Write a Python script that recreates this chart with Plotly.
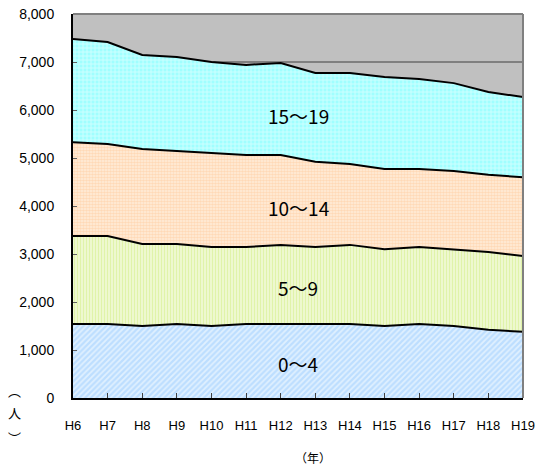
import plotly.graph_objects as go

years = ["H6", "H7", "H8", "H9", "H10", "H11", "H12", "H13", "H14", "H15", "H16", "H17", "H18", "H19"]

age_0_4 = [1540, 1540, 1500, 1540, 1500, 1540, 1540, 1540, 1540, 1500, 1540, 1500, 1420, 1380]
age_5_9 = [1835, 1835, 1710, 1670, 1645, 1605, 1650, 1605, 1650, 1600, 1605, 1600, 1620, 1580]
age_10_14 = [1955, 1915, 1980, 1935, 1955, 1915, 1870, 1775, 1685, 1670, 1625, 1630, 1610, 1640]
age_15_19 = [2150, 2125, 1955, 1960, 1900, 1880, 1920, 1850, 1895, 1920, 1875, 1830, 1725, 1670]

y_ticks = [0, 1000, 2000, 3000, 4000, 5000, 6000, 7000, 8000]

GRAY_BG = "#c0c0c0"
GRID = "#808080"
TICK_FONT = {"family": "Arial, Liberation Sans, sans-serif", "size": 13, "color": "#000000"}
JP_FONT = "Noto Sans CJK JP, sans-serif"

series = [
    ("0～4", age_0_4, {"shape": "/", "fgcolor": "#99ccff", "bgcolor": "#e0f0ff", "size": 4, "solidity": 0.55}),
    ("5～9", age_5_9, {"shape": "|", "fgcolor": "#cbeb78", "bgcolor": "#f4fadc", "size": 3, "solidity": 0.5}),
    ("10～14", age_10_14, {"shape": ".", "fgcolor": "#ffc490", "bgcolor": "#ffeedd", "size": 3, "solidity": 0.6}),
    ("15～19", age_15_19, {"shape": "+", "fgcolor": "#ffffff", "bgcolor": "#a0ffff", "size": 4, "solidity": 0.4}),
]

fig = go.Figure()
for name, values, pattern in series:
    fig.add_trace(
        go.Scatter(
            x=years,
            y=values,
            name=name,
            mode="lines",
            stackgroup="age",
            line={"color": "#000000", "width": 2},
            fillpattern=pattern,
            fillcolor=pattern["bgcolor"],
            hoverinfo="skip",
        )
    )

# group labels inside the bands
labels = [("0～4", 0.5, 0.089), ("5～9", 0.5, 0.289), ("10～14", 0.5, 0.497), ("15～19", 0.5, 0.736)]
for text, x, y in labels:
    fig.add_annotation(
        text=text, x=x, y=y, xref="paper", yref="paper", showarrow=False,
        xanchor="center", yanchor="middle",
        font={"family": JP_FONT, "size": 19, "color": "#000000"},
    )

fig.add_annotation(
    text="（年）", x=0.533, y=-0.154, xref="paper", yref="paper", showarrow=False,
    xanchor="center", yanchor="middle",
    font={"family": JP_FONT, "size": 12, "color": "#000000"},
)
# vertical unit label, one glyph per annotation for the wide spacing
for ch, y in [("︵", 0.02), ("人", -0.039), ("︶", -0.104)]:
    fig.add_annotation(
        text=ch, x=-0.131, y=y, xref="paper", yref="paper", showarrow=False,
        xanchor="center", yanchor="middle",
        font={"family": JP_FONT, "size": 13, "color": "#000000"},
    )

# gray frame on top and right
fig.add_shape(type="line", xref="paper", yref="paper", x0=0, x1=1, y0=1, y1=1, line={"color": GRID, "width": 2})
fig.add_shape(type="line", xref="paper", yref="paper", x0=1, x1=1, y0=0, y1=1, line={"color": GRID, "width": 2})

fig.update_layout(
    width=537,
    height=469,
    margin={"l": 73, "r": 14, "t": 14, "b": 71},
    paper_bgcolor="#ffffff",
    plot_bgcolor=GRAY_BG,
    showlegend=False,
    font={"family": "Arial, Liberation Sans, sans-serif", "color": "#000000"},
)
fig.update_xaxes(
    type="category",
    range=[0, len(years) - 1],
    automargin=False,
    showgrid=False,
    showline=True,
    linecolor="#000000",
    linewidth=2,
    ticks="inside",
    ticklen=5,
    tickcolor="#404040",
    tickfont=TICK_FONT,
    ticklabelstandoff=14,
)
fig.update_yaxes(
    range=[0, 8000],
    tickvals=y_ticks,
    tickformat=",d",
    automargin=False,
    showgrid=True,
    gridcolor=GRID,
    gridwidth=2,
    zeroline=False,
    showline=True,
    linecolor="#000000",
    linewidth=2,
    ticks="inside",
    ticklen=4,
    tickcolor="#606060",
    tickfont={**TICK_FONT, "size": 14},
    ticklabelstandoff=14,
)

# drop the default 8px body margin so the figure sits flush in the window
fig.write_html(
    "out.html",
    config={"displayModeBar": False},
    post_script="document.body.style.margin = '0';",
)
